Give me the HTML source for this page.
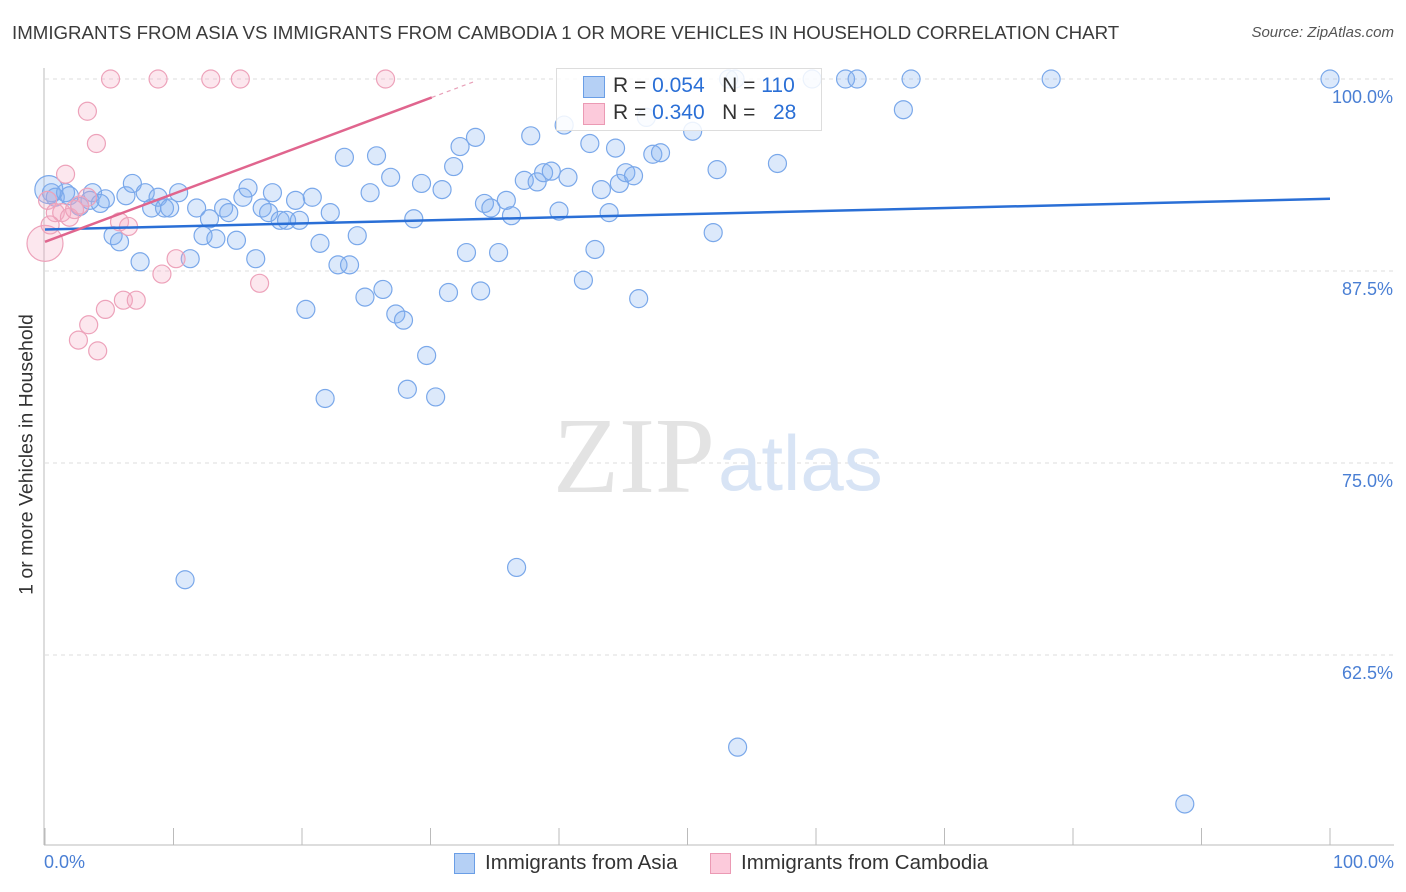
<!DOCTYPE html>
<html><head><meta charset="utf-8"><style>
body{margin:0;background:#fff;font-family:"Liberation Sans",sans-serif;}
#wrap{position:relative;width:1406px;height:892px;overflow:hidden;}
.t{position:absolute;white-space:nowrap;}
</style></head><body><div id="wrap">
<div class="t" style="left:12px;top:22px;font-size:18.7px;color:#3b3b3b;">IMMIGRANTS FROM ASIA VS IMMIGRANTS FROM CAMBODIA 1 OR MORE VEHICLES IN HOUSEHOLD CORRELATION CHART</div>
<div class="t" style="right:12px;top:24px;font-size:15px;color:#555;font-style:italic;">Source: ZipAtlas.com</div>
<div class="t" style="left:-123px;top:443px;font-size:19.5px;color:#333;transform:rotate(-90deg);width:300px;text-align:center;">1 or more Vehicles in Household</div>
<svg id="svg" width="1406" height="892" style="position:absolute;left:0;top:0"></svg>
</div>
<script>
const blueX=[0.5,0.8,1.6,1.9,2.7,3.7,3.5,4.7,4.3,5.3,5.8,6.3,6.8,7.4,7.8,8.3,8.8,9.3,9.7,10.4,11.3,11.8,12.3,12.8,13.3,13.9,14.3,14.9,15.4,15.8,16.4,16.9,17.4,17.7,18.3,18.8,19.5,19.8,20.3,20.8,21.4,21.8,22.2,22.8,23.3,23.7,24.3,24.9,25.3,25.8,26.3,26.9,27.3,27.9,28.2,28.7,29.3,29.7,30.4,30.9,31.4,31.8,32.3,32.8,33.5,33.9,34.2,34.7,35.3,35.9,36.3,36.7,37.3,37.8,38.3,38.8,39.4,40.0,40.4,40.7,41.9,42.4,42.8,43.3,43.9,44.4,44.7,45.2,45.8,46.2,46.8,47.3,47.9,50.4,52.0,52.3,53.2,53.7,53.9,57.0,59.7,62.3,63.2,66.8,67.4,78.3,88.7,100,10.9,0.3];
const blueY=[92.6,92.3,92.6,92.4,91.7,92.6,92.1,92.2,91.9,89.8,89.4,92.4,93.2,88.1,92.6,91.6,92.3,91.6,91.6,92.6,88.3,91.6,89.8,90.9,89.6,91.6,91.3,89.5,92.3,92.9,88.3,91.6,91.3,92.6,90.8,90.8,92.1,90.8,85.0,92.3,89.3,79.2,91.3,87.9,94.9,87.9,89.8,85.8,92.6,95.0,86.3,93.6,84.7,84.3,79.8,90.9,93.2,82.0,79.3,92.8,86.1,94.3,95.6,88.7,96.2,86.2,91.9,91.6,88.7,92.1,91.1,68.2,93.4,96.3,93.3,93.9,94.0,91.4,97.0,93.6,86.9,95.8,88.9,92.8,91.3,95.5,93.2,93.9,93.7,85.7,97.5,95.1,95.2,96.6,90.0,94.1,100,100,56.5,94.5,100,100,100,98.0,100,100,52.8,100,67.4,92.8];
const pinkX=[5.1,8.8,12.9,15.2,26.5,3.3,4.0,1.6,0.2,0.8,1.3,1.9,2.3,2.7,3.3,5.8,6.5,9.1,10.2,16.7,6.1,7.1,4.7,3.4,2.6,4.1,0.0,0.4];
const pinkY=[100,100,100,100,100,97.9,95.8,93.8,92.1,91.3,91.3,91.0,91.5,91.8,92.3,90.7,90.4,87.3,88.3,86.7,85.6,85.6,85.0,84.0,83.0,82.3,89.3,90.5];
const blueTrend=[90.2,92.2];
const pinkTrend=[89.4,98.8,30.1];
const yTicks=[100,87.5,75,62.5];
const yTickLabels=["100.0%","87.5%","75.0%","62.5%"];

const X=v=>45+v*12.85, Y=v=>79+(100-v)*15.36;
const svg=document.getElementById('svg'),NS='http://www.w3.org/2000/svg';
function mk(tag,a){const e=document.createElementNS(NS,tag);for(const k in a)e.setAttribute(k,a[k]);svg.appendChild(e);return e;}
yTicks.forEach((t,i)=>{
 const g=mk('line',{x1:45,x2:1394,y1:Y(t),y2:Y(t),stroke:'#ddd','stroke-dasharray':'4,4'});
 
 
 const tx=mk('text',{x:1393,y:Y(t)+24,'text-anchor':'end','font-size':18,fill:'#4a7fd4','font-family':'Liberation Sans'});
 tx.textContent=yTickLabels[i];
 
 
});
const ax=mk('line',{x1:44,x2:44,y1:68,y2:845,stroke:'#bbb'});


const bx=mk('line',{x1:44,x2:1394,y1:845,y2:845,stroke:'#bbb'});


for(let i=0;i<=10;i++){const tk=mk('line',{x1:X(i*10),x2:X(i*10),y1:828,y2:845,stroke:'#bbb'});
 
 }
const w1=mk('text',{x:553,y:492,'font-size':108,fill:'#e3e3e3','font-family':'Liberation Serif'});w1.textContent='ZIP';


const w2=mk('text',{x:718,y:490,'font-size':78,fill:'#d8e4f5','font-family':'Liberation Sans'});w2.textContent='atlas';


blueX.forEach((x,i)=>{const r=i==blueX.length-1?14:9;const c=mk('circle',{cx:X(x),cy:Y(blueY[i]),r:r,fill:'rgba(130,175,240,0.28)',stroke:'#7aa8ea','stroke-width':1.2});
 
 });
pinkX.forEach((x,i)=>{const r=i==26?18:9;const c=mk('circle',{cx:X(x),cy:Y(pinkY[i]),r:r,fill:'rgba(245,170,195,0.28)',stroke:'#eda2ba','stroke-width':1.2});
 
 });
const bl=mk('line',{x1:X(0),y1:Y(blueTrend[0]),x2:X(100),y2:Y(blueTrend[1]),stroke:'#2a6fd6','stroke-width':2.5});


const sl=(pinkTrend[1]-pinkTrend[0])/pinkTrend[2];
const pl=mk('line',{x1:X(0),y1:Y(pinkTrend[0]),x2:X(pinkTrend[2]),y2:Y(pinkTrend[1]),stroke:'#e0658e','stroke-width':2.5});


const pd=mk('line',{x1:X(pinkTrend[2]),y1:Y(pinkTrend[1]),x2:X(33.5),y2:Y(pinkTrend[0]+sl*33.5),stroke:'#e8a0b8','stroke-width':1.2,'stroke-dasharray':'4,4'});


</script>
<div style="position:absolute;left:556px;top:68px;width:264px;height:61px;border:1px solid #ddd;background:rgba(255,255,255,0.85);font-size:21px;">
 <div style="position:absolute;left:26px;top:7px;width:20px;height:20px;background:#b5d0f5;border:1px solid #6a9ee6;"></div>
 <div class="t" style="left:56px;top:5px;color:#333;">R = <span style="color:#2a6fd6">0.054</span>&nbsp;&nbsp;&nbsp;N = <span style="color:#2a6fd6">110</span></div>
 <div style="position:absolute;left:26px;top:34px;width:20px;height:20px;background:#fccadb;border:1px solid #eb9ab4;"></div>
 <div class="t" style="left:56px;top:32px;color:#333;">R = <span style="color:#2a6fd6">0.340</span>&nbsp;&nbsp;&nbsp;N = &nbsp;&nbsp;<span style="color:#2a6fd6">28</span></div>
</div>
<div class="t" style="left:44px;top:852px;font-size:18px;color:#4a7fd4;">0.0%</div>
<div class="t" style="right:12px;top:852px;font-size:18px;color:#4a7fd4;">100.0%</div>
<div style="position:absolute;left:454px;top:853px;">
 <div style="position:absolute;left:0;top:0;width:19px;height:19px;background:#b5d0f5;border:1px solid #6a9ee6;"></div>
 <div class="t" style="left:31px;top:-2px;font-size:20.5px;color:#333;">Immigrants from Asia</div></div>
<div style="position:absolute;left:710px;top:853px;">
 <div style="position:absolute;left:0;top:0;width:19px;height:19px;background:#fccadb;border:1px solid #eb9ab4;"></div>
 <div class="t" style="left:31px;top:-2px;font-size:20.5px;color:#333;">Immigrants from Cambodia</div></div>
</body></html>
